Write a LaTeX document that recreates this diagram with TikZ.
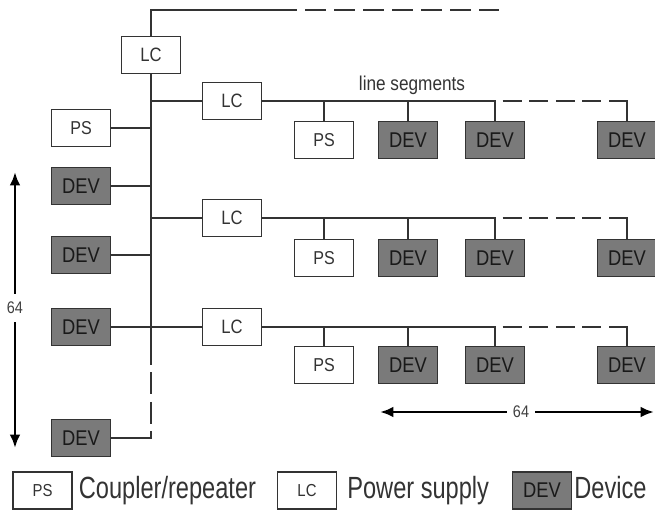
\documentclass[tikz,border=0pt]{standalone}
\usepackage{fontspec}
\setmainfont{Liberation Sans}
\newfontfamily\boxfont[FakeStretch=0.86]{Liberation Sans}
\newfontfamily\legfont[FakeStretch=0.77]{Liberation Sans}
\usetikzlibrary{arrows.meta,positioning}

\tikzset{
  unit/.style={draw=black!80, line width=1.1pt, minimum width=44pt, minimum height=28pt, inner sep=0pt, text=black!80},
  lcbox/.style={unit, fill=white, font=\boxfont\fontsize{14.5}{15}\selectfont},
  psbox/.style={unit, fill=white, font=\boxfont\fontsize{14}{15}\selectfont},
  devbox/.style={unit, fill=black!52, text=black!90, font=\boxfont\fontsize{16}{17}\selectfont},
  keytext/.style={inner sep=0pt, text=black!80, font=\legfont\fontsize{23}{24}\selectfont, text height=16.5pt, text depth=4.8pt},
  bus/.style={draw=black!80, line width=2pt},
  seg/.style={draw=black!80, line width=1.6pt},
  brk/.style={seg, dash pattern=on 14.25pt off 5.7pt, dash phase=14.25pt},
  span/.style={draw=black, line width=2.2pt, -{Latex[length=10pt,width=8pt]}},
  count/.style={inner sep=0pt, minimum size=21pt, text=black!75, font=\boxfont\fontsize{12.6}{13}\selectfont}
}

\begin{document}
\begin{tikzpicture}[x=0.75pt, y=-0.75pt]
\useasboundingbox (0,0) rectangle (655,510);

% Backbone with its line coupler
\node[lcbox] (lc0) at (151,55) {LC};
\coordinate (topturn) at (151,10);
\coordinate (topbrk) at (297,10);
\coordinate (topend) at (499,10);
\coordinate (busbrk) at (151,365);
\draw[bus] (lc0.north) -- (topturn) -- (topbrk);
\draw[bus, dash pattern=on 15.75pt off 6pt, dash phase=15.75pt] (topbrk) -- (topend);
\draw[bus] (lc0.south) -- (busbrk);

% Main line: power supply and devices on the left
\node[psbox] (psm) at (81,128) {PS};
\foreach \i/\y in {1/186, 2/255, 3/327, 4/438}
  \node[devbox] (dev\i) at (81,\y) {DEV};
\draw[seg] (psm.east) -- (psm.east -| lc0.south);
\foreach \i in {1,2,3}
  \draw[seg] (dev\i.east) -- (dev\i.east -| lc0.south);
\draw[bus, dash pattern=on 16.5pt off 5.6pt, dash phase=16.5pt] (busbrk) -- (dev4.east -| lc0.south);
\draw[seg, line cap=rect] (dev4.east -| lc0.south) -- (dev4.east);

% Three lines behind their couplers
\foreach \r/\ly/\by in {1/101/140, 2/218/258, 3/327/365}{
  \node[lcbox] (lc\r) at (232,\ly) {LC};
  \node[psbox] (ps\r) at (324,\by) {PS};
  \node[devbox] (da\r) at (408,\by) {DEV};
  \node[devbox] (db\r) at (495,\by) {DEV};
  \node[devbox] (dc\r) at (627,\by) {DEV};
  \draw[seg] (lc\r.west -| lc0.south) -- (lc\r.west);
  \draw[seg] (lc\r.east) -- (db\r.north |- lc\r.east);
  \draw[brk] (db\r.north |- lc\r.east) -- (dc\r.north |- lc\r.east);
  \foreach \bx in {ps,da,db,dc}
    \draw[seg, line cap=rect] (\bx\r.north) -- (\bx\r.north |- lc\r.east);
}
\node[text=black!80, font=\boxfont\fontsize{15}{16}\selectfont] (segs) at (412,85) {line segments};

% Counts: 64 per line
\coordinate (uptip) at (15,172);
\coordinate (downtip) at (15,448);
\node[count] (nmain) at (15,308) {64};
\draw[span] (nmain) -- (uptip);
\draw[span] (nmain) -- (downtip);
\coordinate (lefttip) at (380,412);
\coordinate (righttip) at (654,412);
\node[count] (nseg) at (521,412) {64};
\draw[span] (nseg) -- (lefttip);
\draw[span] (nseg) -- (righttip);

% Key
\node[psbox, font=\boxfont\fontsize{13}{14}\selectfont] (kps) at (42.5,490.5) {PS};
\node[keytext, right=4.5pt of kps] (tps) {Coupler/repeater};
\node[lcbox, font=\boxfont\fontsize{13}{14}\selectfont] (klc) at (307,490.5) {LC};
\node[keytext, right=7.5pt of klc] (tlc) {Power supply};
\node[devbox] (kdev) at (542,490.5) {DEV};
\node[keytext, right=1.5pt of kdev] (tdev) {Device};
\end{tikzpicture}
\end{document}
